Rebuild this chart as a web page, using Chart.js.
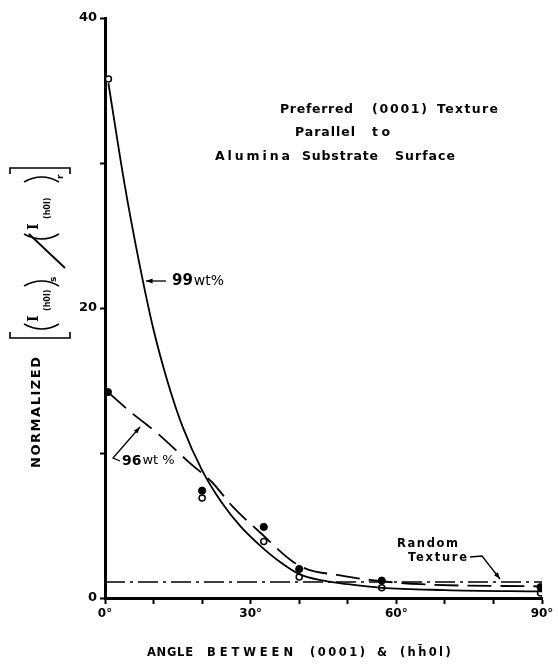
<!DOCTYPE html>
<html>
<head>
<meta charset="utf-8">
<script src="https://cdn.jsdelivr.net/npm/chart.js@4.4.1/dist/chart.umd.min.js"></script>
<style>
  html, body { margin: 0; padding: 0; background: #fff; }
  #wrap { width: 558px; height: 668px; }
</style>
</head>
<body>
<div id="wrap"><canvas id="texChart" width="558" height="668"></canvas></div>
<script>
//Tick labels shown on the axes.
const angleTicks = [0, 30, 60, 90];
const valueTicks = [0, 20, 40];

//Solid 99wt% curve.
const curve99Angle = [0.7, 4, 7, 10, 13, 16, 20, 24, 28, 32, 36, 40, 45, 50, 57, 70, 90];
const curve99Value = [35.5, 28.6, 23.2, 18.5, 14.8, 11.8, 8.8, 6.6, 4.9, 3.6, 2.5, 1.65, 1.2, 0.95, 0.7, 0.55, 0.45];

//Dashed 96wt% curve.
const curve96Angle = [0.6, 5, 11, 17.5, 22, 26.3, 32, 38.7, 42, 47.7, 54.5, 65, 90];
const curve96Value = [14.2, 12.9, 11.3, 9.3, 8.0, 6.3, 4.5, 2.5, 1.94, 1.6, 1.25, 0.95, 0.8];

//Random texture reference line.
const randomAngle = [0, 90];
const randomValue = [1.1, 1.1];

//Measured points: open = 99wt%, filled = 96wt%.
const open99Angle = [0.7, 20, 32.7, 40, 57, 89.7];
const open99Value = [35.8, 6.9, 3.9, 1.45, 0.7, 0.35];
const filled96Angle = [0.6, 20, 32.7, 40, 57, 89.7];
const filled96Value = [14.2, 7.4, 4.9, 2.0, 1.2, 0.75];

const FONT = '"DejaVu Sans", sans-serif';

function zip(xs, ys) {
    return xs.map((x, i) => ({ x: x, y: ys[i] }));
}

//Draws a word stretched to a given width (the scan uses wide letter spacing).
function fitWord(ctx, text, x, y, w) {
    ctx.letterSpacing = '0px';
    const m = ctx.measureText(text).width;
    const ls = text.length > 1 ? (w - m) / (text.length - 1) : 0;
    ctx.letterSpacing = ls + 'px';
    ctx.fillText(text, x, y);
    ctx.letterSpacing = '0px';
}

//Line with a small filled arrow head at the last point.
function arrowPath(ctx, pts) {
    ctx.beginPath();
    ctx.moveTo(pts[0][0], pts[0][1]);
    for (let i = 1; i < pts.length; i++) ctx.lineTo(pts[i][0], pts[i][1]);
    ctx.stroke();
    const [x1, y1] = pts[pts.length - 2];
    const [x2, y2] = pts[pts.length - 1];
    const a = Math.atan2(y2 - y1, x2 - x1);
    ctx.beginPath();
    ctx.moveTo(x2, y2);
    ctx.lineTo(x2 - 7 * Math.cos(a - 0.35), y2 - 7 * Math.sin(a - 0.35));
    ctx.lineTo(x2 - 7 * Math.cos(a + 0.35), y2 - 7 * Math.sin(a + 0.35));
    ctx.closePath();
    ctx.fill();
}

//Rotated y-axis title: NORMALIZED [ (I(h0l))s / (I(h0l))r ]
function drawYTitle(ctx) {
    ctx.save();
    ctx.translate(37, 600);
    ctx.rotate(-Math.PI / 2);
    ctx.fillStyle = '#000';
    ctx.strokeStyle = '#000';
    ctx.textBaseline = 'middle';
    ctx.textAlign = 'left';
    ctx.font = 'bold 13px ' + FONT;
    fitWord(ctx, 'NORMALIZED', 132, 0, 111);

    ctx.lineWidth = 1.6;
    //brackets
    ctx.beginPath();
    ctx.moveTo(268, -27); ctx.lineTo(262, -27); ctx.lineTo(262, 33); ctx.lineTo(268, 33);
    ctx.moveTo(426, -27); ctx.lineTo(432, -27); ctx.lineTo(432, 33); ctx.lineTo(426, 33);
    ctx.stroke();

    //parentheses as arcs
    function paren(a, dir) {
        ctx.beginPath();
        ctx.moveTo(a, -13);
        ctx.quadraticCurveTo(a - 10 * dir, 5, a, 22);
        ctx.stroke();
    }
    paren(276, 1); paren(314, -1);
    paren(366, 1); paren(418, -1);

    ctx.font = 'bold 14px "DejaVu Serif", serif';
    ctx.fillText('I', 278, -3);
    ctx.fillText('I', 370, -3);
    ctx.font = 'bold 8px ' + FONT;
    ctx.fillText('(h0l)', 289, 11);
    ctx.fillText('(h0l)', 381, 11);
    ctx.font = 'bold 9px ' + FONT;
    ctx.fillText('s', 318, 17);
    ctx.fillText('r', 421, 24);

    //slash between the two groups
    ctx.lineWidth = 1.8;
    ctx.beginPath();
    ctx.moveTo(332, 28);
    ctx.lineTo(366, -8);
    ctx.stroke();
    ctx.restore();
}

const labelPlugin = {
    id: 'labelPlugin',
    afterDraw(chart) {
        const ctx = chart.ctx;
        ctx.save();
        ctx.fillStyle = '#000';
        ctx.strokeStyle = '#000';
        ctx.textBaseline = 'middle';
        ctx.textAlign = 'left';

        //Title block
        ctx.font = 'bold 12.5px ' + FONT;
        fitWord(ctx, 'Preferred', 280, 110, 73);
        fitWord(ctx, '(0001)', 372, 110, 55);
        fitWord(ctx, 'Texture', 437, 110, 61);
        fitWord(ctx, 'Parallel', 295, 133, 60);
        fitWord(ctx, 'to', 372, 133, 18);
        fitWord(ctx, 'Alumina', 215, 157, 75);
        fitWord(ctx, 'Substrate', 302, 157, 76);
        fitWord(ctx, 'Surface', 395, 157, 60);

        //x-axis title
        ctx.font = 'bold 11.5px ' + FONT;
        fitWord(ctx, 'ANGLE', 147, 653, 46);
        fitWord(ctx, 'BETWEEN', 207, 653, 86);
        fitWord(ctx, '(0001)', 310, 653, 55);
        fitWord(ctx, '&', 377, 653, 10);
        fitWord(ctx, '(hh\u03040l)', 400, 653, 53);

        //99wt% label and arrow
        ctx.font = 'bold 15px ' + FONT;
        ctx.fillText('99', 172, 281);
        const w99 = ctx.measureText('99').width;
        ctx.font = '14px ' + FONT;
        ctx.fillText('wt%', 172 + w99 + 1, 281);
        ctx.lineWidth = 1.3;
        arrowPath(ctx, [[166, 281], [146, 281]]);

        //96wt% label and leader
        ctx.font = 'bold 14px ' + FONT;
        ctx.fillText('96', 122, 461);
        const w96 = ctx.measureText('96').width;
        ctx.font = '13px ' + FONT;
        ctx.fillText('wt %', 122 + w96 + 1, 461);
        arrowPath(ctx, [[120, 461], [113, 458], [140, 427]]);

        //Random texture label and leader
        ctx.font = 'bold 11.5px ' + FONT;
        fitWord(ctx, 'Random', 397, 544, 61);
        fitWord(ctx, 'Texture', 408, 558, 59);
        arrowPath(ctx, [[470, 557], [482, 556], [500, 579]]);

        drawYTitle(ctx);
        ctx.restore();
    }
};

const ctx = document.getElementById('texChart').getContext('2d');

new Chart(ctx, {
    type: 'scatter',
    data: {
        datasets: [
            {
                label: '99wt% curve',
                data: zip(curve99Angle, curve99Value),
                showLine: true,
                borderColor: '#000',
                borderWidth: 1.8,
                pointRadius: 0,
                cubicInterpolationMode: 'monotone'
            },
            {
                label: '96wt% curve',
                data: zip(curve96Angle, curve96Value),
                showLine: true,
                borderColor: '#000',
                borderWidth: 1.8,
                borderDash: [24, 9],
                pointRadius: 0,
                cubicInterpolationMode: 'monotone'
            },
            {
                label: 'Random Texture',
                data: zip(randomAngle, randomValue),
                showLine: true,
                borderColor: '#000',
                borderWidth: 1.6,
                borderDash: [20, 5, 3, 5],
                pointRadius: 0
            },
            {
                label: '99wt% measured',
                data: zip(open99Angle, open99Value),
                pointRadius: 3,
                pointBackgroundColor: '#fff',
                pointBorderColor: '#000',
                pointBorderWidth: 1.5
            },
            {
                label: '96wt% measured',
                data: zip(filled96Angle, filled96Value),
                pointRadius: 3.6,
                pointBackgroundColor: '#000',
                pointBorderColor: '#000',
                pointBorderWidth: 1
            }
        ]
    },
    options: {
        responsive: false,
        animation: false,
        devicePixelRatio: 1,
        layout: { padding: { top: 18, right: 16, left: 0, bottom: 0 } },
        plugins: {
            legend: { display: false },
            tooltip: { enabled: false }
        },
        scales: {
            x: {
                type: 'linear',
                min: 0,
                max: 90,
                afterFit: scale => { scale.height = 70; },
                border: { display: true, color: '#000', width: 3 },
                grid: { drawOnChartArea: false, drawTicks: true, tickLength: 6, color: '#000', tickWidth: 2 },
                ticks: {
                    stepSize: 10,
                    padding: 3,
                    color: '#000',
                    font: { family: FONT, weight: 'bold', size: 12 },
                    callback: v => angleTicks.includes(v) ? v + '°' : ''
                }
            },
            y: {
                type: 'linear',
                min: 0,
                max: 40,
                afterFit: scale => { scale.width = 105; },
                border: { display: true, color: '#000', width: 3 },
                grid: { drawOnChartArea: false, drawTicks: true, tickLength: 5, color: '#000', tickWidth: 2 },
                ticks: {
                    stepSize: 10,
                    padding: 3,
                    color: '#000',
                    font: { family: FONT, weight: 'bold', size: 13 },
                    callback: v => valueTicks.includes(v) ? v : ''
                }
            }
        }
    },
    plugins: [labelPlugin]
});
</script>
</body>
</html>
